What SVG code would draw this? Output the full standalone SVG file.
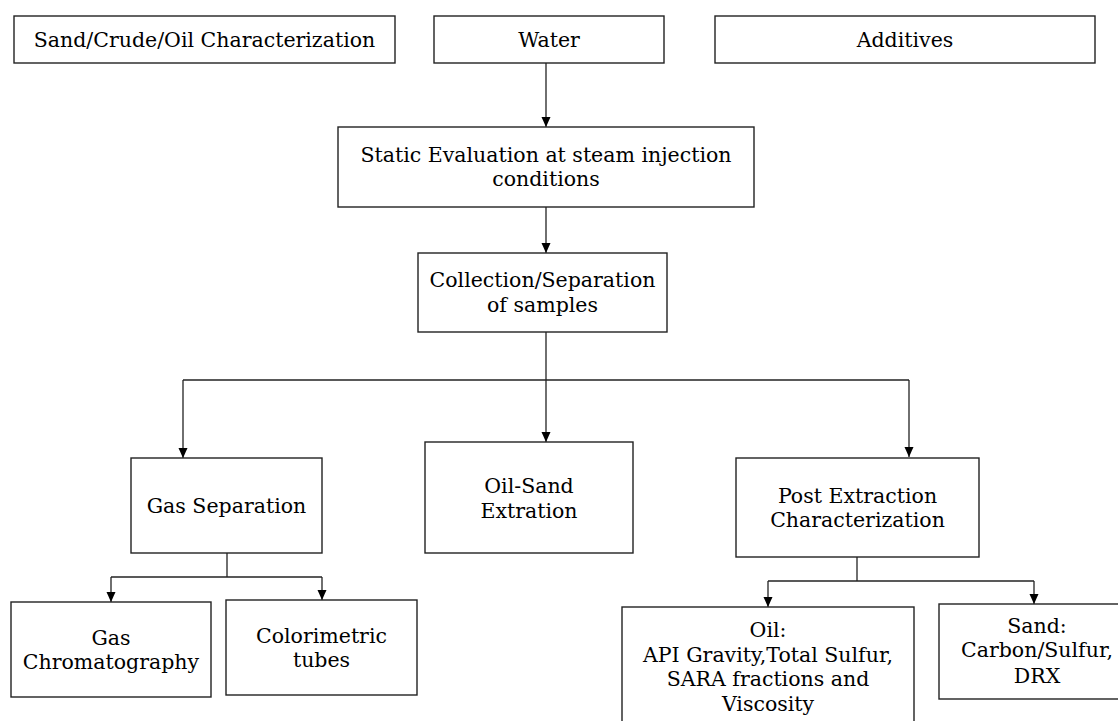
<svg xmlns="http://www.w3.org/2000/svg" width="1118" height="721" viewBox="0 0 1118 721">
<style>
  .box { fill: #ffffff; stroke: #222222; stroke-width: 1.4; }
  .lbl { font-family: "DejaVu Serif", "Liberation Serif", serif; font-size: 20.5px; fill: #000000; text-anchor: middle; }
  .conn { fill: none; stroke: #222222; stroke-width: 1.3; }
</style>
<defs>
  <marker id="arrow" markerUnits="userSpaceOnUse" markerWidth="10" markerHeight="10" viewBox="0 0 10 10" refX="10" refY="5" orient="auto">
    <path d="M0,0.5 L10,5 L0,9.5 Z" fill="#000000"/>
  </marker>
</defs>
<rect width="1118" height="721" fill="#ffffff"/>

<g id="connectors">
  <line class="conn" x1="546" y1="63" x2="546" y2="127" marker-end="url(#arrow)"/>
  <line class="conn" x1="546" y1="207" x2="546" y2="253" marker-end="url(#arrow)"/>
  <line class="conn" x1="546" y1="332" x2="546" y2="380"/>
  <line class="conn" x1="183" y1="380" x2="909" y2="380"/>
  <line class="conn" x1="183" y1="380" x2="183" y2="458" marker-end="url(#arrow)"/>
  <line class="conn" x1="546" y1="380" x2="546" y2="442" marker-end="url(#arrow)"/>
  <line class="conn" x1="909" y1="380" x2="909" y2="457" marker-end="url(#arrow)"/>
  <line class="conn" x1="227" y1="553" x2="227" y2="577"/>
  <line class="conn" x1="111" y1="577" x2="322" y2="577"/>
  <line class="conn" x1="111" y1="577" x2="111" y2="602" marker-end="url(#arrow)"/>
  <line class="conn" x1="322" y1="577" x2="322" y2="600" marker-end="url(#arrow)"/>
  <line class="conn" x1="857" y1="557" x2="857" y2="581"/>
  <line class="conn" x1="768" y1="581" x2="1034" y2="581"/>
  <line class="conn" x1="768" y1="581" x2="768" y2="607" marker-end="url(#arrow)"/>
  <line class="conn" x1="1034" y1="581" x2="1034" y2="604" marker-end="url(#arrow)"/>
</g>

<g id="node-sand-crude-oil">
  <rect class="box" x="14" y="16" width="381" height="47"/>
  <text class="lbl" x="204.5" y="47">Sand/Crude/Oil Characterization</text>
</g>
<g id="node-water">
  <rect class="box" x="434" y="16" width="230" height="47"/>
  <text class="lbl" x="549" y="47">Water</text>
</g>
<g id="node-additives">
  <rect class="box" x="715" y="16" width="380" height="47"/>
  <text class="lbl" x="905" y="47">Additives</text>
</g>
<g id="node-static-evaluation">
  <rect class="box" x="338" y="127" width="416" height="80"/>
  <text class="lbl" x="546" y="162">Static Evaluation at steam injection</text>
  <text class="lbl" x="546" y="186">conditions</text>
</g>
<g id="node-collection">
  <rect class="box" x="418" y="253" width="249" height="79"/>
  <text class="lbl" x="542.5" y="287">Collection/Separation</text>
  <text class="lbl" x="542.5" y="312">of samples</text>
</g>
<g id="node-gas-separation">
  <rect class="box" x="131" y="458" width="191" height="95"/>
  <text class="lbl" x="226.5" y="513">Gas Separation</text>
</g>
<g id="node-oil-sand-extration">
  <rect class="box" x="425" y="442" width="208" height="111"/>
  <text class="lbl" x="529" y="493">Oil-Sand</text>
  <text class="lbl" x="529" y="518">Extration</text>
</g>
<g id="node-post-extraction">
  <rect class="box" x="736" y="458" width="243" height="99"/>
  <text class="lbl" x="857.5" y="503">Post Extraction</text>
  <text class="lbl" x="857.5" y="527">Characterization</text>
</g>
<g id="node-gas-chromatography">
  <rect class="box" x="11" y="602" width="200" height="95"/>
  <text class="lbl" x="111" y="645">Gas</text>
  <text class="lbl" x="111" y="669">Chromatography</text>
</g>
<g id="node-colorimetric">
  <rect class="box" x="226" y="600" width="191" height="95"/>
  <text class="lbl" x="321.5" y="643">Colorimetric</text>
  <text class="lbl" x="321.5" y="667">tubes</text>
</g>
<g id="node-oil">
  <rect class="box" x="622" y="607" width="292" height="125"/>
  <text class="lbl" x="768" y="637">Oil:</text>
  <text class="lbl" x="768" y="662">API Gravity,Total Sulfur,</text>
  <text class="lbl" x="768" y="686">SARA fractions and</text>
  <text class="lbl" x="768" y="711">Viscosity</text>
</g>
<g id="node-sand">
  <rect class="box" x="939" y="604" width="196" height="95"/>
  <text class="lbl" x="1037" y="633">Sand:</text>
  <text class="lbl" x="1037" y="657">Carbon/Sulfur,</text>
  <text class="lbl" x="1037" y="683">DRX</text>
</g>
</svg>
